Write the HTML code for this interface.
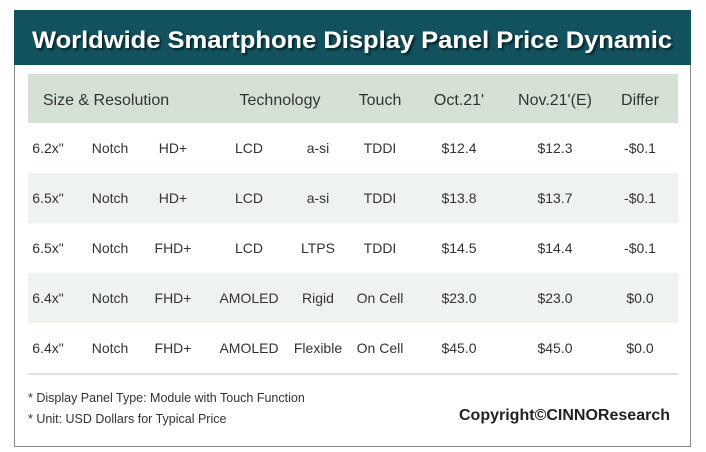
<!DOCTYPE html>
<html><head><meta charset="utf-8"><style>
html,body{margin:0;padding:0;background:#fff;width:706px;height:452px;overflow:hidden}
svg{display:block;font-family:"Liberation Sans",sans-serif}
</style></head><body>
<svg width="706" height="452">
<defs><filter id="sh" x="-5%" y="-20%" width="110%" height="140%"><feDropShadow dx="2" dy="2" stdDeviation="1" flood-color="#000" flood-opacity="0.6"/></filter></defs>
<rect x="14.5" y="10.5" width="676" height="436" fill="#fff" stroke="#8a8a8a"/>
<rect x="14" y="10" width="677" height="55" fill="#12525e"/>
<text x="32" y="48" font-size="24" font-weight="bold" fill="#fff" textLength="640" lengthAdjust="spacingAndGlyphs" filter="url(#sh)">Worldwide Smartphone Display Panel Price Dynamic</text>
<rect x="28" y="74" width="650" height="49" fill="#d6e1d6"/>
<g id="hdr" font-size="16" fill="#333" text-anchor="middle"></g>
<g id="rows"></g>
<line x1="28" y1="374" x2="678" y2="374" stroke="#e0e0e0" stroke-width="2"/>
<text x="28" y="402" font-size="12.5" fill="#333">* Display Panel Type:  Module with Touch Function</text>
<text x="28" y="423" font-size="12.5" fill="#333">* Unit:  USD Dollars for Typical Price</text>
<text x="459" y="420" font-size="16" font-weight="bold" fill="#222" textLength="211" lengthAdjust="spacingAndGlyphs">Copyright©CINNOResearch</text>
</svg>
<script>
const headers=["Size & Resolution","Technology","Touch","Oct.21'","Nov.21'(E)","Differ"];
const sizes=['6.2x"','6.5x"','6.5x"','6.4x"','6.4x"'];
const shapes=["Notch","Notch","Notch","Notch","Notch"];
const resolutions=["HD+","HD+","FHD+","FHD+","FHD+"];
const displays=["LCD","LCD","LCD","AMOLED","AMOLED"];
const backplanes=["a-si","a-si","LTPS","Rigid","Flexible"];
const touches=["TDDI","TDDI","TDDI","On Cell","On Cell"];
const octPrices=["$12.4","$13.8","$14.5","$23.0","$45.0"];
const novPrices=["$12.3","$13.7","$14.4","$23.0","$45.0"];
const differs=["-$0.1","-$0.1","-$0.1","$0.0","$0.0"];
const NS="http://www.w3.org/2000/svg";
const hx=[106,280,380,459,555,640];
const hg=document.getElementById('hdr');
headers.forEach((h,i)=>{const t=document.createElementNS(NS,'text');
t.setAttribute('x',hx[i]);t.setAttribute('y',105);t.textContent=h;


hg.appendChild(t);});
const cx=[48,110,173,249,318,380,459,555,640];
const cols=[sizes,shapes,resolutions,displays,backplanes,touches,octPrices,novPrices,differs];
const rg=document.getElementById('rows');
for(let r=0;r<sizes.length;r++){
 const y=123+r*50;
 if(r%2==1){const b=document.createElementNS(NS,'rect');
  b.setAttribute('x',28);b.setAttribute('y',y);b.setAttribute('width',650);b.setAttribute('height',50);b.setAttribute('fill','#eef3ef');
  
  
  rg.appendChild(b);}
 cols.forEach((c,i)=>{const t=document.createElementNS(NS,'text');
  t.setAttribute('x',cx[i]);t.setAttribute('y',y+30);t.setAttribute('font-size','14');t.setAttribute('fill','#333');t.setAttribute('text-anchor','middle');
  t.textContent=c[r];
  
  
  rg.appendChild(t);});
}
</script>
</body></html>
